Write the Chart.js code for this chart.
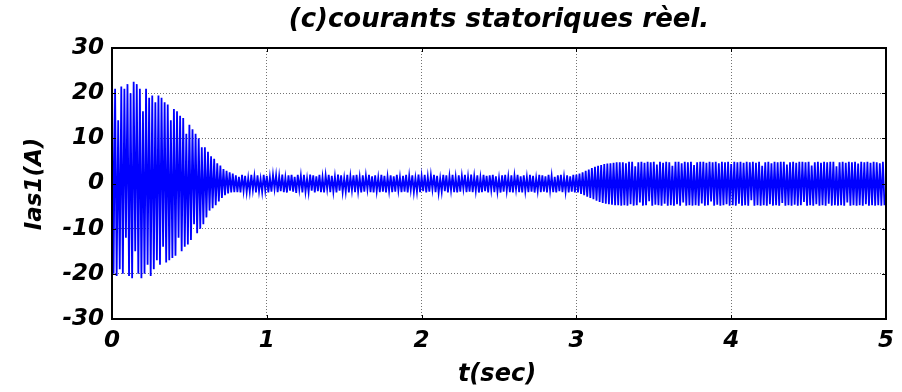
<!DOCTYPE html>
<html>
<head>
<meta charset="utf-8">
<script src="https://cdn.jsdelivr.net/npm/chart.js@4.4.0/dist/chart.umd.min.js"></script>
<style>
  html, body { margin: 0; padding: 0; background: #fff; }
  #wrap { width: 902px; height: 392px; }
</style>
</head>
<body>
<div id="wrap"><canvas id="myChart" width="902" height="392"></canvas></div>
<script>
// half period of the 50 Hz current (sec), one peak per step
const dt = 0.01;

// peaks, alternating sign
// start-up transient, 0 - 0.79 s
const startup = [24, -20, 21, -20.5, 14, -19, 21.5, -20, 21, -12,
  22, -20.5, 20, -21, 22.5, -15, 22, -20, 21, -21,
  16, -20, 21, -18, 19, -20.5, 19.5, -19, 18, -17,
  19.5, -18, 19, -14, 18, -17.5, 17.5, -17, 14, -16.5,
  16.5, -16, 16, -12, 15, -15, 14.5, -14, 11, -13.5,
  13, -12.5, 12, -9, 11, -11, 10, -10, 8, -9,
  8, -7.5, 7, -6, 6, -5.5, 5.5, -4.8, 4.5, -4,
  4, -3.2, 3.2, -2.6, 2.8, -2.2, 2.5, -2, 2.2, -1.9];

// no-load steady state, 0.80 - 2.99 s
const noLoad = [1.8, -1.9, 1.5, -2.0, 1.9, -1.6, 1.7, -1.9, 1.2, -1.8,
  1.9, -1.4, 1.6, -2.0, 1.8, -1.7, 1.0, -1.9, 1.9, -1.5,
  1.7, -2.0, 1.4, -1.8, 1.9, -1.2, 1.8, -1.9, 1.6, -1.7,
  2.0, -1.9, 1.3, -2.0, 1.8, -1.6, 1.9, -1.8, 1.5, -2.1,
  1.9, -1.3, 1.7, -2.0, 1.9, -1.8, 1.1, -1.9, 2.0, -1.6,
  1.8, -2.0, 1.6, -1.7, 1.9, -1.9, 1.4, -2.0, 1.8, -1.2,
  1.9, -1.9, 1.7, -1.8, 1.5, -2.0, 2.0, -1.6, 1.8, -1.9,
  1.2, -1.8, 1.9, -2.0, 1.6, -1.5, 1.8, -1.9, 1.9, -1.7,
  1.4, -2.0, 1.8, -1.8, 1.7, -1.3, 1.9, -1.9, 1.6, -2.0,
  1.8, -1.7, 1.3, -1.9, 1.9, -1.8, 1.7, -2.0, 1.5, -1.6,
  1.8, -1.9, 1.6, -1.8, 1.9, -1.5, 1.4, -1.9, 1.7, -1.8,
  1.9, -2.0, 1.7, -1.4, 1.8, -1.9, 1.2, -1.8, 2.0, -1.9,
  1.6, -1.7, 1.9, -2.0, 1.5, -1.8, 1.8, -1.3, 1.9, -1.9,
  1.7, -2.0, 1.1, -1.8, 1.9, -1.7, 1.8, -2.0, 1.6, -1.5,
  1.9, -1.9, 1.4, -2.0, 1.8, -1.8, 1.7, -1.2, 1.9, -1.9,
  1.5, -1.8, 2.0, -1.9, 1.6, -1.6, 1.8, -2.0, 1.3, -1.9,
  1.9, -1.7, 1.7, -2.0, 1.8, -1.4, 1.9, -1.9, 1.6, -1.8,
  1.2, -2.0, 1.8, -1.8, 1.9, -1.6, 1.5, -1.9, 1.8, -2.0,
  1.7, -1.3, 1.9, -1.9, 1.6, -2.0, 1.8, -1.7, 1.4, -1.9,
  1.9, -1.8, 1.7, -2.0, 1.2, -1.6, 1.9, -1.9, 1.8, -1.8,
  1.6, -2.0, 1.9, -1.5, 1.7, -1.9, 1.5, -2.0, 1.8, -1.7,
  1.9, -1.9, 1.4, -1.8, 1.8, -2.0, 1.6, -1.8, 1.9, -2.0];

// load applied at 3 s, 3.00 - 3.29 s
const loadStep = [2, -2, 2.2, -2.3, 2.5, -2.6, 2.8, -2.9, 3.1, -3.2,
  3.4, -3.5, 3.7, -3.8, 3.9, -4.1, 4.1, -4.3, 4.3, -4.5,
  4.4, -4.6, 4.5, -4.7, 4.6, -4.8, 4.7, -4.8, 4.7, -4.9];

// loaded steady state, 3.30 - 4.99 s
const loaded = [4.7, -4.8, 4.5, -4.9, 4.8, -4.6, 4.8, -4.9, 3.8, -4.8,
  4.7, -4.2, 4.8, -4.9, 4.6, -4.8, 4.8, -3.9, 4.7, -4.9,
  4.8, -4.7, 4.2, -4.8, 4.8, -4.9, 4.6, -4.5, 4.8, -4.9,
  4.7, -4.8, 3.9, -4.9, 4.8, -4.6, 4.8, -4.9, 4.5, -4.2,
  4.8, -4.9, 4.7, -4.8, 4.8, -4.9, 4.1, -4.8, 4.7, -4.9,
  4.8, -4.4, 4.8, -4.9, 4.6, -4.8, 4.8, -4.0, 4.7, -4.9,
  4.8, -4.7, 4.5, -4.9, 4.8, -4.8, 4.7, -4.6, 4.8, -4.9,
  4.3, -4.8, 4.8, -4.9, 4.7, -4.5, 4.8, -4.9, 4.6, -4.8,
  4.8, -4.9, 4.7, -3.7, 4.8, -4.9, 4.6, -4.8, 4.8, -4.9,
  3.9, -4.8, 4.7, -4.9, 4.8, -4.6, 4.5, -4.9, 4.8, -4.8,
  4.7, -4.9, 4.8, -4.3, 4.8, -4.9, 4.2, -4.8, 4.7, -4.9,
  4.8, -4.7, 4.6, -4.9, 4.8, -4.8, 4.8, -4.1, 4.7, -4.9,
  4.8, -4.8, 4.0, -4.9, 4.7, -4.6, 4.8, -4.9, 4.6, -4.8,
  4.8, -4.9, 4.7, -4.5, 4.8, -4.9, 4.8, -4.8, 3.8, -4.9,
  4.7, -4.8, 4.8, -4.9, 4.6, -4.2, 4.8, -4.9, 4.7, -4.8,
  4.8, -4.9, 4.4, -4.8, 4.8, -4.9, 4.7, -4.6, 4.8, -4.9,
  4.6, -4.8, 4.8, -4.9, 4.7, -4.8, 4.5, -4.9, 4.8, -4.8];

const xTicks = [0, 1, 2, 3, 4, 5];
const yTicks = [-30, -20, -10, 0, 10, 20, 30];

const values = startup.concat(noLoad, loadStep, loaded);
const points = values.map((v, i) => ({ x: +(i * dt).toFixed(2), y: v }));

const FONT = '"DejaVu Sans", sans-serif';

// title, axis labels, box and inward ticks like matlab
const decor = {
    id: 'decor',
    afterDraw(chart) {
        const c = chart.ctx;
        const a = chart.chartArea;
        const xs = chart.scales.x, ys = chart.scales.y;
        c.save();
        c.strokeStyle = '#000';
        c.lineWidth = 1;
        xTicks.forEach(t => {
            const px = Math.round(xs.getPixelForValue(t)) + 0.5;
            c.beginPath();
            c.moveTo(px, a.bottom); c.lineTo(px, a.bottom - 4);
            c.moveTo(px, a.top); c.lineTo(px, a.top + 4);
            c.stroke();
        });
        yTicks.forEach(t => {
            const py = Math.round(ys.getPixelForValue(t)) + 0.5;
            c.beginPath();
            c.moveTo(a.left, py); c.lineTo(a.left + 4, py);
            c.moveTo(a.right, py); c.lineTo(a.right - 4, py);
            c.stroke();
        });
        c.lineWidth = 2;
        c.strokeRect(a.left, a.top, a.right - a.left, a.bottom - a.top);

        c.fillStyle = '#000';
        c.textAlign = 'center';
        c.textBaseline = 'alphabetic';
        c.font = 'italic bold 26px ' + FONT;
        c.fillText('(c)courants statoriques rèel.', (a.left + a.right) / 2, 27);
        c.font = 'italic bold 24px ' + FONT;
        c.fillText('t(sec)', 497, 381);
        c.font = 'italic bold 23px ' + FONT;
        c.translate(41, 184);
        c.rotate(-Math.PI / 2);
        c.fillText('Ias1(A)', 0, 0);
        c.restore();
    }
};

const ctx = document.getElementById('myChart').getContext('2d');
window.myChart = new Chart(ctx, {
    type: 'line',
    data: {
        datasets: [{
            label: 'Ias1',
            data: points,
            borderColor: '#0000ff',
            borderWidth: 1.8,
            pointRadius: 0,
            tension: 0,
            fill: false
        }]
    },
    options: {
        responsive: false,
        animation: false,
        devicePixelRatio: 1,
        layout: { padding: { top: 48, right: 14, left: 0, bottom: 0 } },
        plugins: { legend: { display: false }, tooltip: { enabled: false } },
        scales: {
            x: {
                type: 'linear',
                min: 0, max: 5,
                afterFit: s => { s.height = 73; },
                afterBuildTicks: s => { s.ticks = xTicks.map(v => ({ value: v })); },
                ticks: {
                    padding: 8,
                    color: '#000',
                    maxRotation: 0,
                    font: { family: FONT, size: 23, style: 'italic', weight: 'bold' }
                },
                grid: { color: 'rgba(0,0,0,0.55)', drawTicks: false, lineWidth: 1 },
                border: { display: false, dash: [1, 2] }
            },
            y: {
                min: -30, max: 30,
                afterFit: s => { s.width = 112; },
                afterBuildTicks: s => { s.ticks = yTicks.map(v => ({ value: v })); },
                ticks: {
                    padding: 8,
                    color: '#000',
                    font: { family: FONT, size: 23, style: 'italic', weight: 'bold' }
                },
                grid: { color: 'rgba(0,0,0,0.55)', drawTicks: false, lineWidth: 1 },
                border: { display: false, dash: [1, 2] }
            }
        }
    },
    plugins: [decor]
});
</script>
</body>
</html>
